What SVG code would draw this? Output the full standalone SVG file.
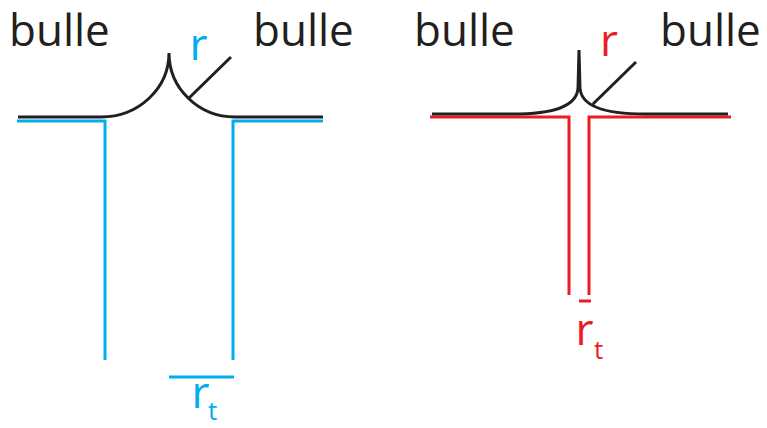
<svg xmlns="http://www.w3.org/2000/svg" width="767" height="428" viewBox="0 0 767 428">
<style>
.t{font-family:"Open Sans","Noto Sans",sans-serif;font-size:44px}
.k{fill:#231F20}
.b{fill:#00AEEF}
.r{fill:#ED1C24}
.sub{font-size:26px}
.ln{fill:none;stroke-width:3}
.lk{stroke:#231F20}
.lb{stroke:#00AEEF}
.lr{stroke:#ED1C24}
</style>
<rect width="767" height="428" fill="#fff"/>
<g id="left">
<path class="ln lb" d="M17,121 H105 V360 M233,360 V121 H323 M169,377 H234"/>
<path class="ln lk" d="M18,117 H101 A68,64 0 0 0 169,53 A66,64 0 0 0 235,117 H323 M189,98 L231,57"/>
<text class="t k" x="9" y="46">bulle</text>
<text class="t k" x="253" y="46">bulle</text>
<text class="t b" x="189.5" y="60">r</text>
<text class="t b" x="191.5" y="408">r</text>
<text class="t b sub" x="208" y="420">t</text>
</g>
<g id="right">
<path class="ln lr" d="M430,117 H569 V295 M589,295 V117 H731 M579,301 H591"/>
<path class="ln lk" d="M432,114 H512 C555,114 577,106 578,88 L579,50 L580,88 C581,106 603,114 645,114 H728 M593,104 L636,62"/>
<text class="t k" x="414" y="46">bulle</text>
<text class="t k" x="660" y="46">bulle</text>
<text class="t r" x="600" y="56">r</text>
<text class="t r" x="575.5" y="345">r</text>
<text class="t r sub" x="594" y="359">t</text>
</g>
</svg>
